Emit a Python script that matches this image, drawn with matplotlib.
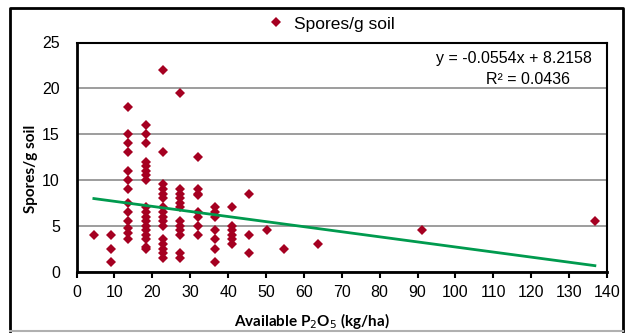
import matplotlib
matplotlib.use("Agg")
import matplotlib.pyplot as plt
import numpy as np
from matplotlib.lines import Line2D

# available P2O5 levels (kg/ha) and spore counts observed at each level
p2o5_levels = [4.56, 9.12, 13.68, 18.24, 22.8, 27.36, 31.92, 36.48,
               41.04, 45.6, 50.16, 54.72, 63.84, 91.2, 136.8]
spores_by_level = [
    [4],
    [4, 2.5, 1],
    [18, 15, 14, 13, 11, 10, 9, 7.5, 6.5, 5.5, 4.7, 4.2, 3.6],
    [16, 15, 14, 12, 11.5, 11, 10.5, 10, 7, 6.5, 6, 5.5, 5, 4.5, 4, 3.5, 2.5, 2.7],
    [22, 13, 9.5, 9, 8.5, 8, 7, 6.5, 6, 5.5, 5, 3.5, 3, 2.5, 2, 1.5],
    [19.5, 9, 8.5, 8, 7.5, 7, 5.5, 5, 4.5, 4, 2, 1.5],
    [12.5, 9, 8.5, 8.3, 6.5, 6, 5, 4],
    [7, 6.5, 6, 4.5, 3.5, 2.5, 1],
    [7, 5, 4.5, 4, 3.5, 3],
    [8.5, 4, 2],
    [4.5],
    [2.5],
    [3],
    [4.5],
    [5.5],
]
slope, intercept, r2 = -0.0554, 8.2158, 0.0436

x = np.concatenate([[lv] * len(v) for lv, v in zip(p2o5_levels, spores_by_level)])
y = np.concatenate(spores_by_level)

W, H = 632, 334
fig = plt.figure(figsize=(W / 100, H / 100), dpi=100)
ax = fig.add_axes([76.6 / W, 1 - 271.5 / H, (607 - 76.6) / W, (271.5 - 42.5) / H])

red = "#A50021"

ax.plot(x, y, "D", color=red, ms=4.8, mew=0, zorder=3)
xs = np.array([x.min(), x.max()])
ax.plot(xs, slope * xs + intercept, color="#009A4E", lw=2, zorder=4)

ax.set_xlim(0, 140)
ax.set_ylim(0, 25)
ax.set_xticks(np.arange(0, 141, 10))
ax.set_yticks(np.arange(0, 26, 5))
for lab in ax.get_xticklabels() + ax.get_yticklabels():
    lab.set_fontfamily("Liberation Sans")
    lab.set_fontsize(11.5)
ax.tick_params(axis="x", length=4, width=1.5, direction="out", pad=6)
ax.tick_params(axis="y", length=0, pad=12)
ax.yaxis.grid(True, color="#8c8c8c", lw=1.2)
ax.set_axisbelow(True)
for side in ["left", "bottom"]:
    ax.spines[side].set_linewidth(2)
for side in ["top", "right"]:
    ax.spines[side].set_linewidth(1.5)

eq_font = dict(family="Liberation Sans", size=11.5)
ax.text(592 / W, 1 - 58 / H, f"y = {slope}x + {intercept}", transform=fig.transFigure,
        ha="right", va="center", **eq_font)
ax.text(528 / W, 1 - 79 / H, f"R² = {r2}", transform=fig.transFigure,
        ha="center", va="center", **eq_font)

# legend above the plot area
handle = Line2D([], [], ls="none", marker="D", color=red, ms=5.5, mew=0)
fig.legend([handle], ["Spores/g soil"], loc="center", bbox_to_anchor=(330 / W, 1 - 24 / H),
           frameon=False, prop=dict(family="Liberation Sans", size=12.5),
           handletextpad=0.4, handlelength=1.2)

label_font = dict(family="Lato", weight="bold", size=11)
fig.text(312 / W, 1 - 321 / H, "Available P$_2$O$_5$ (kg/ha)", ha="center", va="center", **label_font)
fig.text(31 / W, 1 - 169 / H, "Spores/g soil", rotation=90, ha="center", va="center", **label_font)

# chart border
fig.add_artist(Line2D([10 / W, 10 / W, 623 / W, 623 / W], [1 - 331 / H, 1 - 8 / H, 1 - 8 / H, 1 - 331 / H],
                      transform=fig.transFigure, color="black", lw=2))
fig.add_artist(Line2D([10 / W, 623 / W], [1 - 331 / H, 1 - 331 / H],
                      transform=fig.transFigure, color="#b0b0b0", lw=1.5))

fig.savefig("out.png", dpi=100)
